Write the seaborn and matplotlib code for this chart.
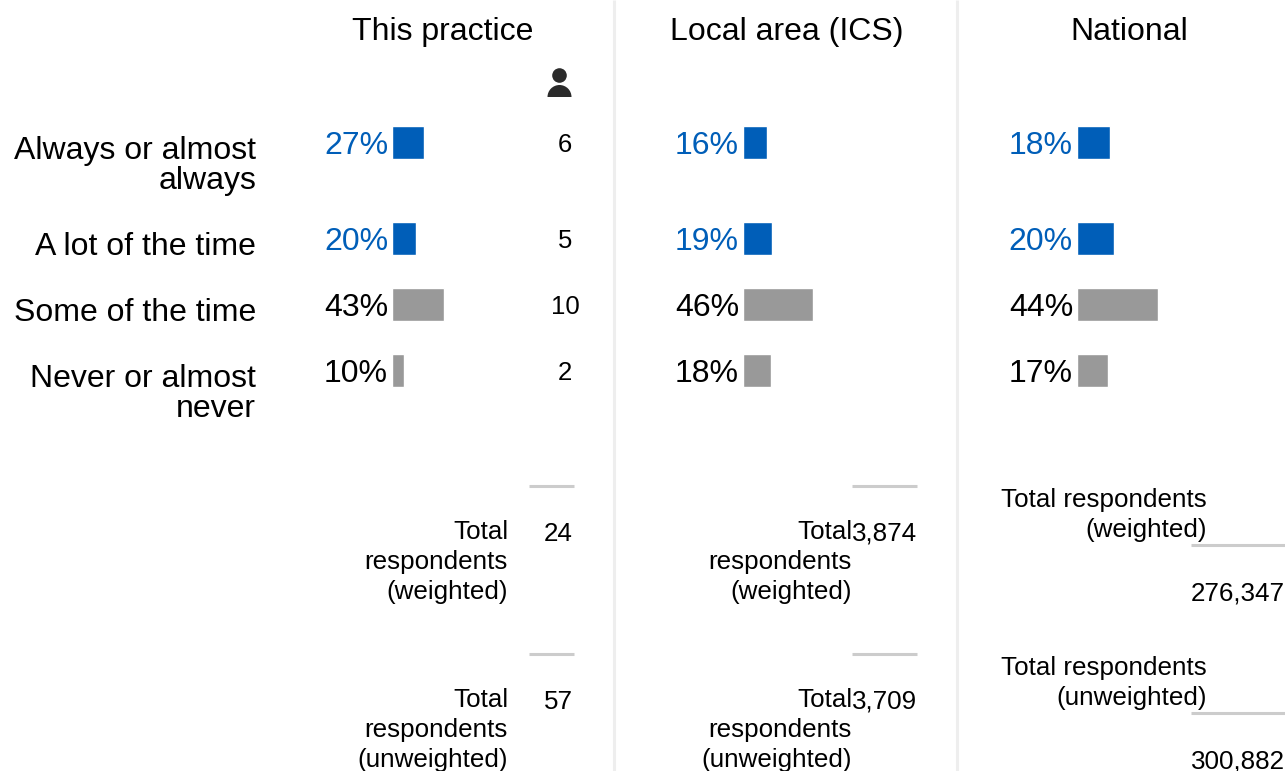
import matplotlib
matplotlib.use('Agg')
import matplotlib.pyplot as plt
import pandas as pd
import seaborn as sns
from matplotlib.patches import Circle, Wedge

sns.set_theme(style="white")
plt.rcParams['font.family'] = ['Liberation Sans', 'DejaVu Sans']

W, H = 1285, 771
BLUE = '#005EB8'
GREY = '#999999'

# data
answers = ['Always or almost\nalways', 'A lot of the time', 'Some of the time', 'Never or almost\nnever']
groups = ['positive', 'positive', 'other', 'other']
panels = ['This practice', 'Local area (ICS)', 'National']
practice_pct = [27, 20, 43, 10]
local_pct = [16, 19, 46, 18]
national_pct = [18, 20, 44, 17]
practice_counts = ['6', '5', '10', '2']
weighted_totals = ['24', '3,874', '276,347']
unweighted_totals = ['57', '3,709', '300,882']

# layout, all in pixels of the output
row_y = [143, 239, 305, 371]
bar_x0 = [393, 744, 1078]
px_per_pct = [1.2, 1.53, 1.83]
titles_x = [443, 787, 1129.5]
label_right = [508, 852, 1207]
num_right = [573, 917, 1285]
rule_x = [(529, 574), (852, 917), (1191, 1285)]

fig = plt.figure(figsize=(W / 100, H / 100), dpi=100, facecolor='white')
bg = fig.add_axes([0, 0, 1, 1])
bg.set_xlim(0, W)
bg.set_ylim(H, 0)
bg.axis('off')

for x in (613.5, 956.5):
    bg.plot([x, x], [0, H], color='#eeeeee', lw=2.2, solid_capstyle='butt')

# bars, the axes sit half a pixel up and left so the edges land on the reference pixels
for i, pct in enumerate([practice_pct, local_pct, national_pct]):
    left = bar_x0[i] - 1
    width_px = W - left
    ax = fig.add_axes([left / W, 0.5 / H, width_px / W, 1])
    df = pd.DataFrame({'pct': pct, 'row': row_y, 'group': groups})
    sns.barplot(data=df, x='pct', y='row', hue='group', orient='h', native_scale=True,
                palette={'positive': BLUE, 'other': GREY}, width=32.5 / 66, dodge=False,
                legend=False, saturation=1, ax=ax)
    ax.set_xlim(0, width_px / px_per_pct[i])
    ax.set_ylim(H, 0)
    ax.axis('off')
    ax.patch.set_alpha(0)

    bg.text(titles_x[i], 40, panels[i], fontsize=23, ha='center', va='baseline', color='black')
    for v, y, g in zip(pct, row_y, groups):
        bg.text(bar_x0[i] - 5, y + 11, f'{v}%', fontsize=23, ha='right', va='baseline',
                color=BLUE if g == 'positive' else 'black')

# answer labels, right aligned, second line hangs below
label_base = [159, 255, 321, 387]
for txt, y in zip(answers, label_base):
    for k, line in enumerate(txt.split('\n')):
        bg.text(256, y + 30 * k, line, fontsize=23, ha='right', va='baseline', color='black')

for c, y in zip(practice_counts, row_y):
    bg.text(565, y + 9, c, fontsize=18.5, ha='center', va='baseline', color='black')

# person icon above the counts
bg.add_patch(Circle((559.5, 75.5), 7.3, color='#2b2b2b', lw=0))
bg.add_patch(Wedge((559.5, 97), 12, 180, 360, color='#2b2b2b', lw=0))

# totals
def totals(rule_y, name, values):
    for i in range(3):
        x1, x2 = rule_x[i]
        if i < 2:
            bg.plot([x1, x2], [rule_y, rule_y], color='#cccccc', lw=2.2, solid_capstyle='butt')
            lines = ['Total', 'respondents', name]
            for k, line in enumerate(lines):
                bg.text(label_right[i], rule_y + 53 + 30 * k, line, fontsize=18.7, ha='right',
                        va='baseline', color='black')
            bg.text(num_right[i], rule_y + 55, values[i], fontsize=18.7, ha='right',
                    va='baseline', color='black')
        else:
            bg.plot([x1, x2], [rule_y + 58.5, rule_y + 58.5], color='#cccccc', lw=2.2, solid_capstyle='butt')
            lines = ['Total respondents', name]
            for k, line in enumerate(lines):
                bg.text(label_right[i], rule_y + 21 + 30 * k, line, fontsize=18.7, ha='right',
                        va='baseline', color='black')
            bg.text(num_right[i], rule_y + 114, values[i], fontsize=18.7, ha='right',
                    va='baseline', color='black')

totals(486, '(weighted)', weighted_totals)
totals(654, '(unweighted)', unweighted_totals)

fig.savefig('out.png', dpi=100, facecolor='white')
